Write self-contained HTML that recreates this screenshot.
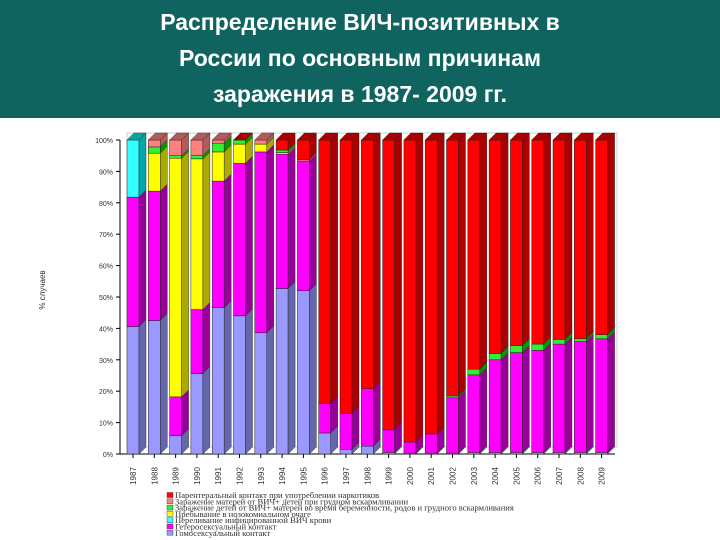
<!DOCTYPE html>
<html><head><meta charset="utf-8">
<style>
body{margin:0;width:720px;height:540px;overflow:hidden;background:#fff;font-family:"Liberation Sans",sans-serif}
#hdr{position:absolute;left:0;top:0;width:720px;height:118px;background:#0f6460;color:#fff;font-weight:bold;font-size:23px;text-align:center;line-height:36px;padding-top:4px;box-sizing:border-box}
svg{position:absolute;left:0;top:0}
</style></head><body>
<div id="hdr">Распределение ВИЧ-позитивных в<br>России по основным причинам<br>заражения в 1987- 2009 гг.</div>
<svg id="c" width="720" height="540"></svg>
<script>
const years=[1987,1988,1989,1990,1991,1992,1993,1994,1995,1996,1997,1998,1999,2000,2001,2002,2003,2004,2005,2006,2007,2008,2009];
const homo=[40.6,42.5,5.8,25.6,46.6,44,38.6,52.7,52,6.7,1.5,2.5,0.5,0.3,0.3,0.3,0.5,0.5,0.5,0.5,0.5,0.5,0.5];
const hetero=[41.2,41.2,12.4,20.4,40.3,48.6,57.6,42.8,41.3,9.3,11.5,18.3,7.2,3.5,6.1,17.6,24.7,29.5,31.8,32.5,34.5,35.3,36.2];
const blood=[18.2,0,0,0,0,0,0,0,0,0,0,0,0,0,0,0,0,0,0,0,0,0,0];
const noso=[0,12.1,76,48,9.3,6.1,2.5,0.5,0,0,0,0,0,0,0,0,0,0,0,0,0,0,0];
const mother=[0,2,0.8,1,2.8,1.3,0,0.8,0,0,0,0,0,0,0,0.6,1.8,2,2.2,2,1.5,0.9,1.3];
const staff=[0,2.2,5,5,1,0,1.3,0,0.5,0,0,0,0,0,0,0,0,0,0,0,0,0,0];
const yTicks=[0,10,20,30,40,50,60,70,80,90,100];
const seriesNames=["Гомосексуальный контакт","Гетеросексуальный контакт","Переливание инфицированной ВИЧ крови","Пребывание в нозокомиальном очаге","Заражение детей от ВИЧ+ матерей во время беременности, родов и грудного вскармливания","Заражение матерей от ВИЧ+ детей при грудном вскармливании","Парентеральный контакт при употреблении наркотиков"];
const NS="http://www.w3.org/2000/svg",svg=document.getElementById('c');
function el(t,a,p){const e=document.createElementNS(NS,t);for(const k in a)e.setAttribute(k,a[k]);(p||svg).appendChild(e);return e;}
const y0=454,y100=140;
function Y(v){return y0-(y0-y100)*v/100;}
function X(i){return 127+i*21.3;}
const BW=12,DX=7,DY=7;
const cols=[["#9999ff","#6666aa","#bbbbff"],["#ff00ff","#990099","#ff66ff"],["#33ffff","#00a8a8","#99ffff"],["#ffff00","#aaaa00","#ffff88"],["#33ee33","#009900","#88ff88"],["#ff8080","#b35a5a","#ffb0b0"],["#ff0000","#aa0000","#ff5555"]];
const ax=el('line',{x1:120,y1:y100,x2:120,y2:y0,stroke:'#000','stroke-width':1});

el('rect',{x:120+DX,y:y100-DY,width:490,height:y0-y100,fill:'none',stroke:'#ccc'});
yTicks.forEach(t=>{
 el('line',{x1:116,y1:Y(t),x2:120,y2:Y(t),stroke:'#000'});
 const tx=el('text',{x:113,y:Y(t)+3,'font-size':7,'text-anchor':'end',fill:'#333'});
 tx.textContent=t+'%';
 
 
});
const yt=el('text',{x:45,y:290,'font-size':8,'text-anchor':'middle',transform:'rotate(-90 45 290)',fill:'#333'});
yt.textContent='% случаев';


el('line',{x1:120,y1:y0,x2:615,y2:y0,stroke:'#000'});
years.forEach((yr,i)=>{
 const x=X(i);
 const data=[homo[i],hetero[i],blood[i],noso[i],mother[i],staff[i]];
 let s=data.reduce((a,b)=>a+b,0);data.push(Math.max(0,100-s));
 let cum=0;
 const g=el('g',{});
 
 
 data.forEach((v,k)=>{
  if(v<=0)return;
  const ya=Y(cum),yb=Y(cum+v);cum+=v;
  el('rect',{x:x,y:yb,width:BW,height:ya-yb,fill:cols[k][0],stroke:'#222','stroke-width':0.5},g);
  el('polygon',{points:`${x+BW},${yb} ${x+BW+DX},${yb-DY} ${x+BW+DX},${ya-DY} ${x+BW},${ya}`,fill:cols[k][1],stroke:'#222','stroke-width':0.4},g);
  if(cum>=99.9)el('polygon',{points:`${x},${yb} ${x+DX},${yb-DY} ${x+BW+DX},${yb-DY} ${x+BW},${yb}`,fill:cols[k][1],stroke:'#222','stroke-width':0.4},g);
 });
 el('line',{x1:x+6,y1:y0,x2:x+6,y2:y0+4,stroke:'#000'});
 const lt=el('text',{x:x+9,y:476,'font-size':8,'text-anchor':'middle',transform:`rotate(-90 ${x+9} 476)`,fill:'#333'});
 lt.textContent=yr;
 
 
});
for(let k=6;k>=0;k--){
 const yy=497+(6-k)*6.3;
 const lg=el('g',{});
 
 
 el('rect',{x:167,y:yy-4.5,width:6,height:5,fill:cols[k][0],stroke:'#333','stroke-width':0.4},lg);
 const t=el('text',{x:175,y:yy+1,'font-size':8.6,fill:'#333',style:'font-family:"Liberation Serif",serif'},lg);
 t.textContent=seriesNames[k];
}
</script>
</body></html>
